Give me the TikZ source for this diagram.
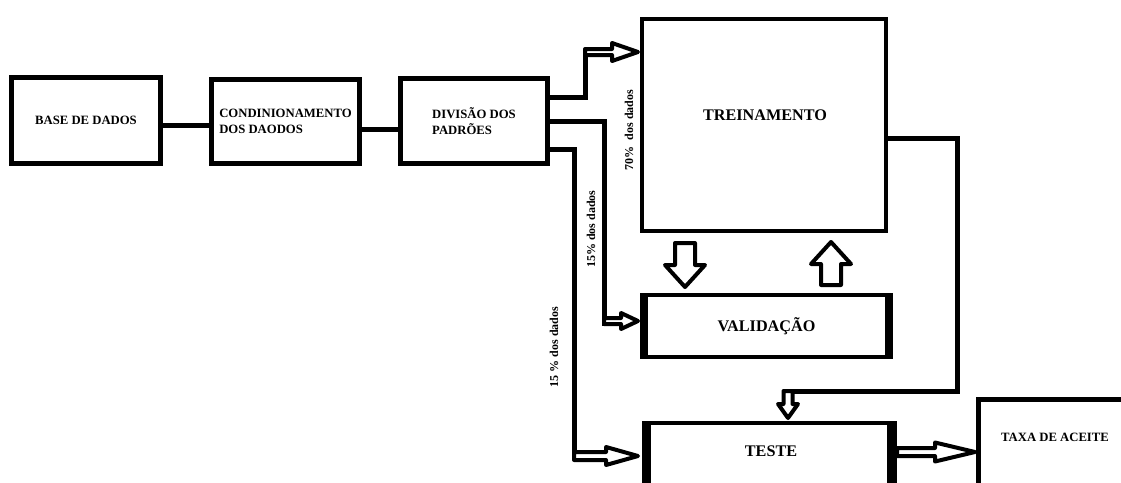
\documentclass[tikz,border=0pt]{standalone}
\usepackage{fontspec}
\setmainfont{Liberation Serif}
\tikzset{
  box/.style={draw, line width=5pt, inner sep=0pt, align=left,
    font=\fontsize{12.7}{16}\selectfont\bfseries},
  bigbox/.style={draw, line width=4pt, inner sep=0pt},
  conn/.style={line width=5pt, line join=miter},
  lbl/.style={inner sep=0pt, font=\fontsize{16.2}{18}\selectfont\bfseries},
  small/.style={inner sep=0pt, font=\fontsize{12.7}{15}\selectfont\bfseries},
  pct/.style={inner sep=0pt, rotate=90, font=\fontsize{12}{14}\selectfont\bfseries},
  hollow/.style={draw, line width=4pt, fill=white, line join=round},
  thick side/.style={fill=black},
  pics/harrow/.style args={#1/#2/#3/#4}{code={
    \path[hollow] (0,-#3) -- (#1-#2,-#3) -- (#1-#2,-#4) -- (#1,0)
      -- (#1-#2,#4) -- (#1-#2,#3) -- (0,#3) -- cycle;}}
}
\begin{document}
\begin{tikzpicture}[x=1pt,y=-1pt]
\useasboundingbox (0,0) rectangle (1121,482);
\clip (0,0) rectangle (1121,482);

% boxes
\node[box, minimum width=149pt, minimum height=86pt] (base) at (86,120.5) {BASE DE DADOS};
\node[box, minimum width=148pt, minimum height=84pt] (cond) at (285.5,121.5) {CONDINIONAMENTO\\DOS DAODOS};
\node[box, minimum width=147pt, minimum height=85pt] (div) at (474,121) {DIVISÃO DOS\\PADRÕES};
\node[bigbox, minimum width=244pt, minimum height=212pt] (trein) at (764,125) {};
\node[lbl] (treintxt) at (765,115) {TREINAMENTO};
\node[bigbox, minimum width=249pt, minimum height=62pt, lbl] (valid) at (766.5,326) {VALIDAÇÃO};
\fill[thick side] (640,293) rectangle (648,359);
\fill[thick side] (885,293) rectangle (893,359);
\node[bigbox, minimum width=251pt, minimum height=95pt] (teste) at (769.5,470.5) {};
\node[lbl] (testetxt) at (771,451) {TESTE};
\fill[thick side] (642,421) rectangle (651,520);
\fill[thick side] (887,421) rectangle (897,520);
\node[draw, line width=5pt, inner sep=0pt, minimum width=169pt, minimum height=118pt] (taxa) at (1063,458.5) {};
\node[small] (taxatxt) at (1055,437) {TAXA DE ACEITE};

% percentage labels
\node[pct] (p70) at (629,130) {70\%\ \ dos dados};
\node[pct] (p15a) at (591,229) {15\% dos dados};
\node[pct] (p15b) at (554,347) {15 \% dos dados};

% connector coordinates
\coordinate (l1) at (186,125);
\coordinate (l2) at (380,129);
\coordinate (c1) at (585,97);
\coordinate (a1) at (585,52);
\coordinate (c2) at (604,121);
\coordinate (a2) at (604,326);
\coordinate (c3) at (574,149);
\coordinate (a3) at (574,460);
\coordinate (t1) at (957,138);
\coordinate (t2) at (957,391);
\coordinate (t3) at (783,391);

\draw[conn] (base.east |- l1) -- (cond.west |- l1);
\draw[conn] (cond.east |- l2) -- (div.west |- l2);
\draw[conn] (div.east |- c1) -- (c1) -- (a1);
\draw[conn] (div.east |- c2) -- (c2) -- (a2);
\draw[conn] (div.east |- c3) -- (c3) -- (a3);
\draw[conn] (trein.east |- t1) -- (t1) -- (t2) -- (t3);

% hollow arrows
\pic at (585,52) {harrow=53/26/3/9};
\pic at (604,321) {harrow=34/17/3/8};
\pic at (574,456) {harrow=64/32/4/9};
\pic at (897,452) {harrow=78/40/4/9.5};
\pic[rotate=-90] at (788,391) {harrow=27/14/4.5/10};
\pic[rotate=-90] at (685,243) {harrow=44/22/10/20};
\pic[rotate=90] at (831,285) {harrow=43/22/10/20};
\end{tikzpicture}
\end{document}
